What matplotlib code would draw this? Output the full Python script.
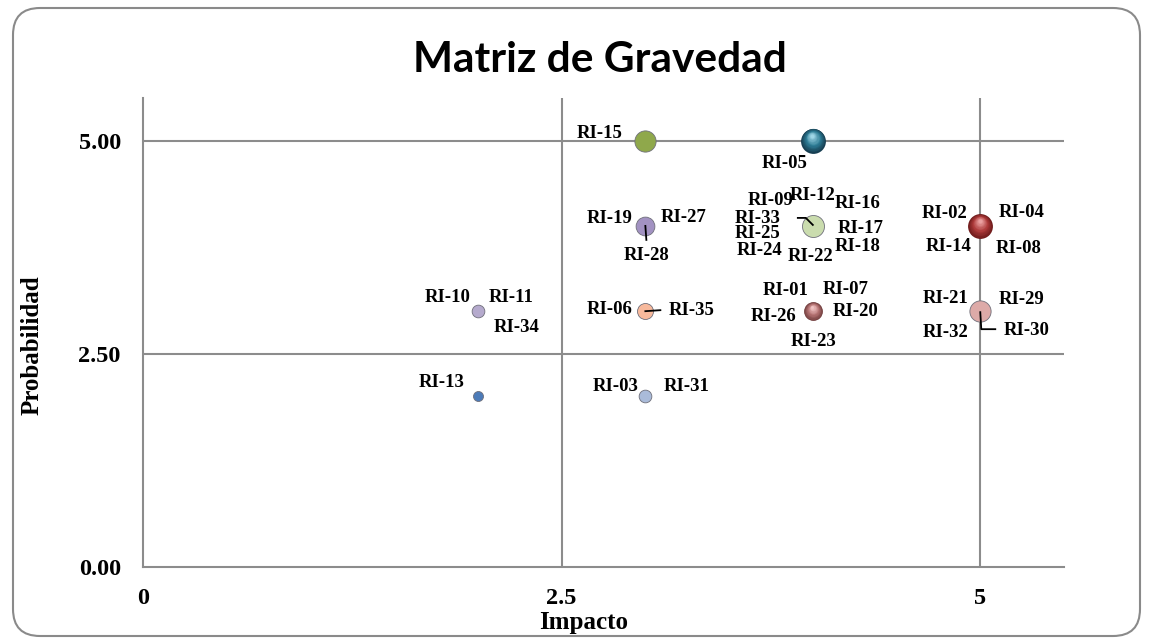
import matplotlib
matplotlib.use("Agg")
import matplotlib.pyplot as plt
import matplotlib.transforms as mtransforms
from matplotlib.patches import FancyBboxPatch
from matplotlib.colors import to_rgb
import numpy as np

# ==========================================
# DATA
# ==========================================

impacto      = [3, 4, 3, 4, 5, 2, 3, 4, 5, 2, 3]
probabilidad = [5, 5, 4, 4, 4, 3, 3, 3, 3, 2, 2]
gravedad     = [15, 20, 12, 16, 20, 6, 9, 12, 15, 4, 6]
riesgos = [
    ["RI-15"],
    ["RI-05"],
    ["RI-19", "RI-27", "RI-28"],
    ["RI-09", "RI-12", "RI-16", "RI-33", "RI-17", "RI-25", "RI-18", "RI-24", "RI-22"],
    ["RI-02", "RI-04", "RI-14", "RI-08"],
    ["RI-10", "RI-11", "RI-34"],
    ["RI-06", "RI-35"],
    ["RI-01", "RI-07", "RI-26", "RI-20", "RI-23"],
    ["RI-21", "RI-29", "RI-32", "RI-30"],
    ["RI-13"],
    ["RI-03", "RI-31"],
]

x_ticks       = [0, 2.5, 5]
x_tick_labels = ["0", "2.5", "5"]
y_ticks       = [0, 2.5, 5]
y_tick_labels = ["0.00", "2.50", "5.00"]

TITLE  = "Matriz de Gravedad"
XLABEL = "Impacto"
YLABEL = "Probabilidad"

# ==========================================
# STYLE
# ==========================================

W, H, DPI = 1151, 644, 100
GRID_COLOR = "#8c8c8c"
SERIF = "Liberation Serif"

# flat fill colour or (dark, mid, light) for the shaded spheres
COLORS = [
    "#8fa84b",
    ("#173f52", "#2c7a93", "#9fd6e6"),
    "#a292c2",
    "#cadcae",
    ("#6e1b1b", "#ad3a3a", "#eaa0a0"),
    "#b5aacd",
    "#f7b99c",
    ("#734040", "#b27070", "#f1c4c4"),
    "#ddaaa8",
    "#4c7bb8",
    "#aabbd9",
]

# label offsets in pixels from the bubble centre (dx, dy up)
LABEL_OFFSETS = {
    "RI-15": (-46, 7), "RI-05": (-28, -23),
    "RI-19": (-36, 7), "RI-27": (38, 8), "RI-28": (1, -30),
    "RI-09": (-42, 25), "RI-12": (0, 30), "RI-16": (45, 22),
    "RI-33": (-55, 7), "RI-17": (48, -3), "RI-25": (-55, -8),
    "RI-18": (45, -21), "RI-24": (-53, -25), "RI-22": (-2, -31),
    "RI-02": (-36, 12), "RI-04": (41, 13), "RI-14": (-32, -21), "RI-08": (38, -23),
    "RI-10": (-30, 14), "RI-11": (33, 14), "RI-34": (39, -16),
    "RI-06": (-36, 2), "RI-35": (46, 1),
    "RI-01": (-27, 21), "RI-07": (33, 22), "RI-26": (-39, -5),
    "RI-20": (43, 0), "RI-23": (1, -30),
    "RI-21": (-35, 13), "RI-29": (41, 12), "RI-32": (-35, -21), "RI-30": (46, -19),
    "RI-13": (-36, 14),
    "RI-03": (-30, 10), "RI-31": (41, 10),
}

# leader lines (pixel offsets) keyed by bubble index
LEADERS = {
    2: [(0, 0), (1, -14)],
    3: [(-15, 8), (-7, 8), (0, 1)],
    6: [(0, 0), (15, 1)],
    8: [(0, -1), (1, -18), (15, -18)],
}


def diameter_px(v):
    return 6.0 * np.sqrt(v) - 2.0


def blend(c1, c2, t):
    a, b = np.array(to_rgb(c1)), np.array(to_rgb(c2))
    return tuple(a + (b - a) * t)


# ==========================================
# FIGURE
# ==========================================

fig = plt.figure(figsize=(W / DPI, H / DPI), dpi=DPI)

border = FancyBboxPatch((13 / DPI, 8 / DPI), 1127 / DPI, 628 / DPI,
                        boxstyle="round,pad=0,rounding_size=0.27",
                        transform=fig.dpi_scale_trans, fill=False,
                        edgecolor="#8a8a8a", linewidth=1.5)
fig.patches.append(border)

ax = fig.add_axes([143 / W, 1 - 567 / H, (1064 - 143) / W, (567 - 98) / H])
ax.set_xlim(0, 5.5)
ax.set_ylim(0, 5.5)

for s in ["top", "right"]:
    ax.spines[s].set_visible(False)
for s in ["left", "bottom"]:
    ax.spines[s].set_color(GRID_COLOR)
    ax.spines[s].set_linewidth(1.5)

ax.set_xticks(x_ticks)
ax.set_xticklabels(x_tick_labels)
ax.set_yticks(y_ticks)
ax.set_yticklabels(y_tick_labels)
ax.tick_params(length=0, labelsize=17.5)
ax.tick_params(axis="x", pad=15)
ax.tick_params(axis="y", pad=16)
for lab in ax.get_xticklabels() + ax.get_yticklabels():
    lab.set_fontfamily(SERIF)
    lab.set_fontweight("bold")

for v in [2.5, 5]:
    ax.axvline(v, color=GRID_COLOR, linewidth=1.5, zorder=1)
    ax.axhline(v, color=GRID_COLOR, linewidth=1.5, zorder=1)

# bubbles
for i, (x, y, g) in enumerate(zip(impacto, probabilidad, gravedad)):
    d = diameter_px(g)
    col = COLORS[i]
    if isinstance(col, tuple):
        dark, mid, light = col
        n = 14
        for k in range(n):
            t = k / (n - 1)
            dk = d * (1 - 0.85 * t)
            if t < 0.45:
                c = blend(dark, mid, t / 0.45)
            else:
                c = blend(mid, light, (t - 0.45) / 0.55)
            tr = mtransforms.offset_copy(ax.transData, fig=fig,
                                         x=-0.02 * d * t, y=0.2 * d * t,
                                         units="dots")
            ax.scatter([x], [y], s=(dk * 72 / DPI) ** 2, color=c,
                       linewidths=0, transform=tr, zorder=3)
    else:
        ax.scatter([x], [y], s=(d * 72 / DPI) ** 2, color=col,
                   edgecolors="#6f6f7a", linewidths=0.6, zorder=3)

    for name in riesgos[i]:
        dx, dy = LABEL_OFFSETS[name]
        ax.annotate(name, xy=(x, y), xytext=(dx, dy), textcoords="offset pixels",
                    ha="center", va="center", fontsize=13.5, fontweight="bold",
                    fontfamily=SERIF, zorder=4)

    if i in LEADERS:
        pts = np.array(LEADERS[i], dtype=float)
        tr = mtransforms.ScaledTranslation(x, y, ax.transData)
        ax.plot(pts[:, 0], pts[:, 1], color="black", linewidth=1.3,
                transform=tr, zorder=5, clip_on=False)

# titles
fig.text(600 / W, 1 - 60 / H, TITLE, ha="center", va="center",
         fontsize=30.5, fontweight="bold", fontfamily="Lato")
fig.text(584 / W, 1 - 622 / H, XLABEL, ha="center", va="center",
         fontsize=18, fontweight="bold", fontfamily=SERIF)
fig.text(32 / W, 1 - 345 / H, YLABEL, ha="center", va="center", rotation=90,
         fontsize=18, fontweight="bold", fontfamily=SERIF)

fig.savefig("out.png", dpi=DPI)
